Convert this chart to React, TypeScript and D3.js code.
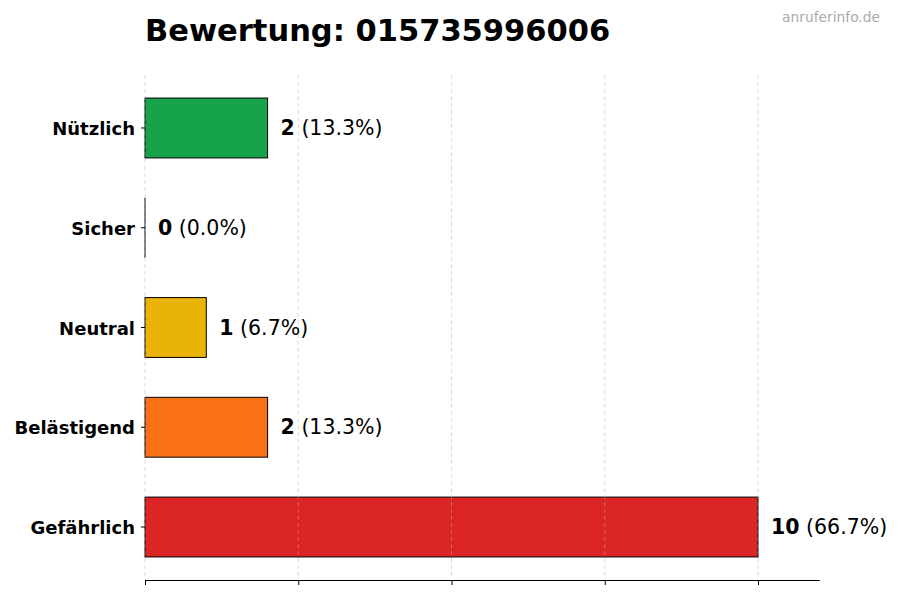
import { useRef, useEffect } from "react";
import * as d3 from "d3";

const categories = ["Nützlich", "Sicher", "Neutral", "Belästigend", "Gefährlich"];
const counts = [2, 0, 1, 2, 10];
const barColors = ["#16a34a", "#9ca3af", "#eab308", "#f97316", "#dc2626"];
const xTicks = [0, 2.5, 5, 7.5, 10];

const W = 900;
const H = 600;
const FONT = "'DejaVu Sans', sans-serif";

export default function App() {
  const svgRef = useRef<SVGSVGElement>(null);

  useEffect(() => {
    if (!svgRef.current) return;
    const svg = d3.select(svgRef.current);
    svg.selectAll("*").remove();

    const total = d3.sum(counts);
    const x = d3.scaleLinear().domain([0, 11]).range([145, 819.3]);
    const y = d3
      .scaleBand<string>()
      .domain(categories)
      .range([78.1, 576.9])
      .paddingInner(0.4)
      .paddingOuter(0.2);

    // Title + watermark
    svg.append("text")
      .attr("x", 145).attr("y", 41)
      .attr("font-family", FONT).attr("font-size", 30.5).attr("font-weight", "bold")
      .attr("fill", "#000")
      .text("Bewertung: 015735996006");
    svg.append("text")
      .attr("x", 880).attr("y", 22)
      .attr("text-anchor", "end")
      .attr("font-family", FONT).attr("font-size", 13.8)
      .attr("fill", "#aaaaaa")
      .text("anruferinfo.de");

    // Bars
    const bars = svg.append("g")
      .selectAll("g")
      .data(categories)
      .join("g");
    bars.filter((_d, i) => counts[i] > 0)
      .append("rect")
      .attr("x", x(0))
      .attr("y", (d) => y(d)!)
      .attr("width", (d) => x(counts[categories.indexOf(d)]) - x(0))
      .attr("height", y.bandwidth())
      .attr("fill", (d) => barColors[categories.indexOf(d)])
      .attr("stroke", "#000")
      .attr("stroke-width", 1);
    // zero-width bars still show their edge
    bars.filter((_d, i) => counts[i] === 0)
      .append("line")
      .attr("x1", x(0)).attr("x2", x(0))
      .attr("y1", (d) => y(d)!)
      .attr("y2", (d) => y(d)! + y.bandwidth())
      .attr("stroke", "#000")
      .attr("stroke-width", 1);

    // Grid (drawn over bars, light dashed)
    svg.append("g")
      .selectAll("line")
      .data(xTicks)
      .join("line")
      .attr("x1", (d) => x(d)).attr("x2", (d) => x(d))
      .attr("y1", 75).attr("y2", 580)
      .attr("stroke", "#b0b0b0")
      .attr("stroke-opacity", 0.6)
      .attr("stroke-dasharray", "4,3")
      .attr("stroke-width", 0.8);

    // X axis (no labels)
    const xAxis = svg.append("g")
      .attr("transform", "translate(0,580)")
      .call(d3.axisBottom(x).tickValues(xTicks).tickSize(5).tickFormat(() => "").tickSizeOuter(0));
    xAxis.select(".domain").attr("stroke", "#000");
    xAxis.selectAll(".tick line").attr("stroke", "#000");

    // Y labels
    const yAxis = svg.append("g")
      .attr("transform", `translate(${x(0)},0)`)
      .call(d3.axisLeft(y).tickSize(4).tickPadding(6));
    yAxis.select(".domain").remove();
    yAxis.selectAll(".tick line").attr("stroke", "#000");
    yAxis.selectAll(".tick text")
      .attr("fill", "#000")
      .attr("dy", "0.4em")
      .attr("font-family", FONT)
      .attr("font-size", 18)
      .attr("font-weight", "bold");

    // Value labels
    const labels = svg.append("g")
      .selectAll("text")
      .data(categories)
      .join("text")
      .attr("x", (_d, i) => x(counts[i]) + 13)
      .attr("y", (d) => y(d)! + y.bandwidth() / 2)
      .attr("dy", "0.35em")
      .attr("font-family", FONT)
      .attr("font-size", 20.5)
      .attr("fill", "#000");
    labels.append("tspan")
      .attr("font-weight", "bold")
      .text((_d, i) => `${counts[i]}`);
    labels.append("tspan")
      .text((_d, i) => ` (${((counts[i] / total) * 100).toFixed(1)}%)`);
  }, []);

  return (
    <svg
      ref={svgRef}
      width={W}
      height={H}
      style={{ position: "absolute", left: 0, top: 0, background: "#fff" }}
    />
  );
}
